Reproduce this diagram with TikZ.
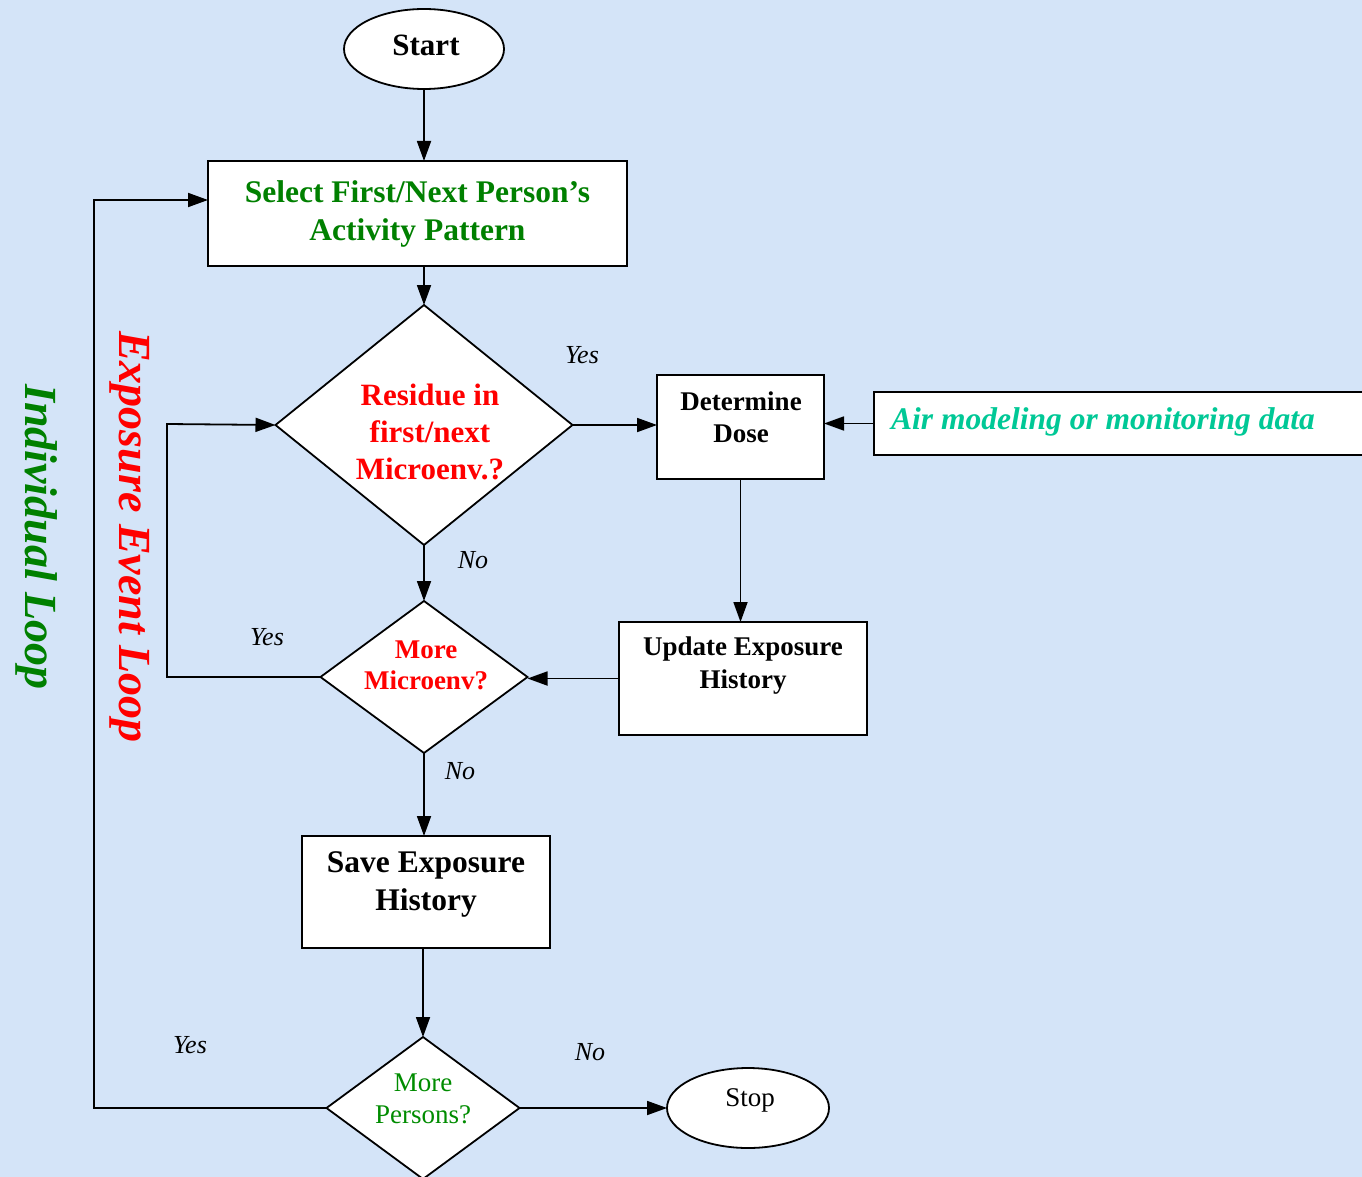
\documentclass[tikz,border=0pt]{standalone}
\usepackage{fontspec}
\setmainfont{Liberation Serif}
\usetikzlibrary{shapes.geometric,arrows.meta}
\definecolor{bg}{RGB}{212,228,248}
\definecolor{dgreen}{RGB}{0,128,0}
\definecolor{lgreen}{RGB}{0,140,0}
\definecolor{teal2}{RGB}{0,200,150}
\begin{document}
\begin{tikzpicture}[x=1pt,y=-1pt,
 box/.style={draw,fill=white,line width=1.8pt,outer sep=0pt,inner sep=0pt},
 dia/.style={diamond,draw,fill=white,line width=1.8pt,outer sep=0pt,inner sep=0pt},
 oval/.style={ellipse,draw,fill=white,line width=1.8pt,outer sep=0pt,inner sep=0pt},
 con/.style={line width=1.8pt},
 arr/.style={con,-{Triangle[length=20pt,width=14pt]}},
 lbl/.style={font=\fontsize{26}{30}\selectfont\itshape,inner sep=0pt},
 txt/.style={align=center,inner sep=0pt}
]
\useasboundingbox (0,0) rectangle (1362,1177);
\fill[bg] (0,0) rectangle (1362,1177);

% nodes
\node[oval,minimum width=160pt,minimum height=80pt] (start) at (424,49) {};
\node[txt,font=\fontsize{31}{37}\selectfont\bfseries] at (426,45) {Start};

\node[box,minimum width=419pt,minimum height=105pt,txt,text=dgreen,
      font=\fontsize{31.5}{38}\selectfont\bfseries] (select) at (417.5,213.5)
      {Select First/Next Person’s\\Activity Pattern};

\node[dia,minimum width=297pt,minimum height=240pt] (d1) at (424,425) {};
\node[txt,text=red,font=\fontsize{31}{37}\selectfont\bfseries] at (430,432)
      {Residue in\\first/next\\Microenv.?};

\node[box,minimum width=167pt,minimum height=104pt] (det) at (740.5,427) {};
\node[txt,font=\fontsize{27}{32}\selectfont\bfseries] at (741,417) {Determine\\Dose};

\node[box,minimum width=492pt,minimum height=63pt] (air) at (1120,423.5) {};
\node[txt,anchor=west,text=teal2,font=\fontsize{31.5}{38}\selectfont\bfseries\itshape]
      at (891,422) {Air modeling or monitoring data};

\node[box,minimum width=248pt,minimum height=113pt] (upd) at (743,678.5) {};
\node[txt,font=\fontsize{27}{33}\selectfont\bfseries] at (743,665.5) {Update Exposure\\History};

\node[dia,minimum width=207pt,minimum height=152pt] (d2) at (424,677) {};
\node[txt,text=red,font=\fontsize{27}{31}\selectfont\bfseries] at (426,665.5) {More\\Microenv?};

\node[box,minimum width=248pt,minimum height=112pt] (save) at (426,892) {};
\node[txt,font=\fontsize{31.5}{38}\selectfont\bfseries] at (426,884) {Save Exposure\\History};

\node[dia,minimum width=193pt,minimum height=142pt] (d3) at (423,1108) {};
\node[txt,text=lgreen,font=\fontsize{27}{32}\selectfont] at (423,1099) {More\\Persons?};

\node[oval,minimum width=162pt,minimum height=80pt] (stop) at (748,1108) {};
\node[txt,font=\fontsize{27}{32}\selectfont] at (750,1100) {Stop};

% loop titles
\node[txt,rotate=-90,text=red,font=\fontsize{46}{50}\selectfont\bfseries\itshape] at (130,537) {Exposure Event Loop};
\node[txt,rotate=-90,text=dgreen,font=\fontsize{46}{50}\selectfont\bfseries\itshape] at (37,537) {Individual Loop};

% coordinates for loops
\coordinate (loop1) at (167,424);
\coordinate (loop2) at (94,200);

% connectors
\draw[arr] (start.south) -- (start.south |- select.north);
\draw[arr] (d1.north |- select.south) -- (d1.north);
\draw[arr] (d1.east) -- (d1.east -| det.west);
\draw[arr] (air.west) -- (air.west -| det.east);
\draw[arr] (det.south) -- (det.south |- upd.north);
\draw[arr] (upd.west) -- (upd.west -| d2.east);
\draw[arr] (d1.south) -- (d2.north);
\draw[arr] (d2.west) -| (loop1) -- (d1.west);
\draw[arr] (d2.south) -- (d2.south |- save.north);
\draw[arr] (d3.north |- save.south) -- (d3.north);
\draw[arr] (d3.east) -- (d3.east -| stop.west);
\draw[arr] (d3.west) -| (loop2) -- (loop2 -| select.west);

% labels
\node[lbl] at (582,355) {Yes};
\node[lbl] at (473,560) {No};
\node[lbl] at (267,637) {Yes};
\node[lbl] at (460,771) {No};
\node[lbl] at (190,1045) {Yes};
\node[lbl] at (590,1052) {No};
\end{tikzpicture}
\end{document}
